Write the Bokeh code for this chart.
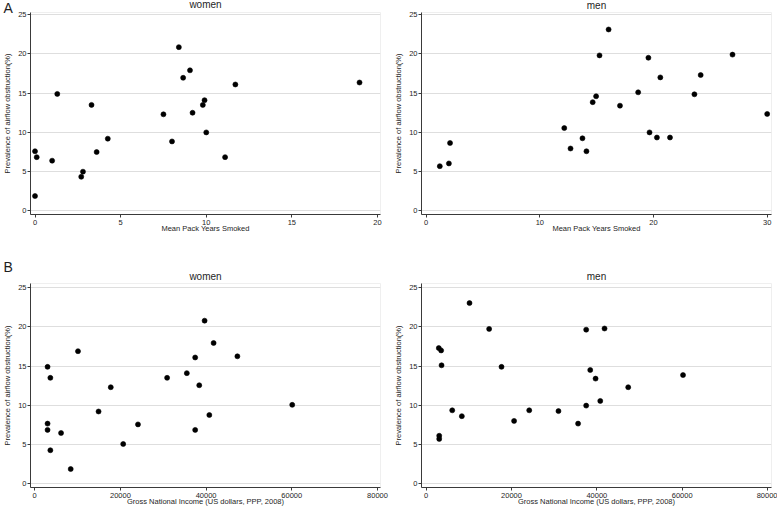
from bokeh.plotting import figure
from bokeh.layouts import column, row
from bokeh.models import Range1d, FixedTicker, Title
from bokeh.embed import file_html
from bokeh.resources import INLINE

# ---- data ----
women_pack_years = [0.0, 0.1, 0.0, 1.0, 1.3, 2.7, 2.8, 3.3, 3.6, 4.25, 7.5, 8.0, 8.4, 8.65,
                    9.05, 9.2, 9.8, 9.9, 10.0, 11.1, 11.7, 18.95]
women_prev_a = [7.6, 6.85, 1.9, 6.4, 14.9, 4.35, 5.0, 13.5, 7.5, 9.2, 12.3, 8.85, 20.85, 16.95,
                17.9, 12.5, 13.5, 14.1, 10.0, 6.85, 16.1, 16.35]
men_pack_years = [1.2, 2.0, 2.1, 12.15, 12.7, 13.75, 14.1, 14.65, 14.95, 15.25, 16.05, 17.05,
                  18.65, 19.55, 19.65, 20.3, 20.6, 21.45, 23.6, 24.15, 26.95, 30.0]
men_prev_a = [5.7, 6.05, 8.65, 10.55, 7.95, 9.25, 7.6, 13.85, 14.6, 19.8, 23.1, 13.4, 15.1,
              19.5, 10.0, 9.35, 17.0, 9.35, 14.85, 17.3, 19.9, 12.35]
women_gni = [3000, 3650, 3000, 3000, 3650, 6150, 8400, 10100, 14900, 17750, 20650, 24100,
             30900, 35500, 37450, 37450, 38400, 39650, 40750, 41750, 47300, 60100]
women_prev_b = [14.9, 13.5, 7.65, 6.85, 4.25, 6.45, 1.85, 16.9, 9.2, 12.3, 5.05, 7.55, 13.5,
                14.1, 16.1, 6.85, 12.55, 20.8, 8.75, 17.95, 16.25, 10.05]
men_gni = [2950, 3500, 3600, 3050, 3050, 6100, 8350, 10150, 14750, 17650, 20600, 24150,
           31000, 35600, 37500, 37500, 38450, 39700, 40800, 41800, 47350, 60200]
men_prev_b = [17.3, 17.0, 15.1, 6.1, 5.7, 9.35, 8.6, 23.05, 19.75, 14.9, 8.0, 9.35, 9.25, 7.65,
              19.65, 9.95, 14.5, 13.4, 10.55, 19.8, 12.3, 13.85]

y_ticks = [0, 5, 10, 15, 20, 25]
pack_ticks_women = [0, 5, 10, 15, 20]
pack_ticks_men = [0, 10, 20, 30]
gni_ticks = [0, 20000, 40000, 60000, 80000]

y_label = "Prevalence of airflow obstruction(%)"
x_label_a = "Mean Pack Years Smoked"
x_label_b = "Gross National Income (US dollars, PPP, 2008)"

FONT = "Liberation Sans"
TEXT = "#1e1e1e"


def panel(x, y, xticks, xr, yr, xlabel, width, height, bl, br, bt, bb):
    p = figure(width=width, height=height, output_backend="svg", toolbar_location=None,
               x_range=Range1d(*xr), y_range=Range1d(*yr),
               min_border_left=bl, min_border_right=br, min_border_top=bt, min_border_bottom=bb)
    try:
        p.title = None
    except Exception:
        p.title.visible = False
    p.scatter(x, y, size=5, color="black", line_width=0.6)
    p.xgrid.grid_line_color = None
    p.ygrid.grid_line_color = "#dedede"
    p.ygrid.grid_line_width = 1
    p.outline_line_color = "#efefef"
    p.xaxis.ticker = FixedTicker(ticks=xticks)
    p.yaxis.ticker = FixedTicker(ticks=y_ticks)
    for ax in (p.xaxis[0], p.yaxis[0]):
        ax.axis_line_color = "#3a3a3a"
        ax.major_tick_line_color = "#3a3a3a"
        ax.major_tick_out = 3
        ax.major_tick_in = 0
        ax.minor_tick_line_color = None
        ax.major_label_text_font = FONT
        ax.major_label_text_font_size = "7.5px"
        ax.major_label_text_color = TEXT
        ax.axis_label_text_font = FONT
        ax.axis_label_text_font_size = "7.5px"
        ax.axis_label_text_font_style = "normal"
        ax.axis_label_text_color = TEXT
    p.xaxis.axis_label = xlabel
    p.xaxis.major_label_standoff = 2
    p.xaxis.axis_label_standoff = -4
    p.yaxis.axis_label = y_label
    p.yaxis.major_label_standoff = 1
    p.yaxis.axis_label_standoff = 3
    p.xaxis.formatter.use_scientific = False
    return p


def add_title(p, text, size, align, valign, standoff, offset=0):
    p.add_layout(Title(text=text, align=align, vertical_align=valign, standoff=standoff,
                       offset=offset, text_font=FONT, text_font_size=size,
                       text_font_style="normal", text_color=TEXT), "above")


yr_top = (-0.45, 25.26)
yr_bot = (-0.51, 25.55)

p1 = panel(women_pack_years, women_prev_a, pack_ticks_women, (-0.263, 20.175), yr_top,
           x_label_a, 389, 258, 30, 9, 0, 44)
add_title(p1, "A", "14px", "left", "top", -12.5, -27)
add_title(p1, "women", "10px", "center", "bottom", -7)

p2 = panel(men_pack_years, men_prev_a, pack_ticks_men, (-0.41, 30.38), yr_top,
           x_label_a, 388, 258, 32, 6, 0, 44)
add_title(p2, "men", "10px", "center", "top", -1.5)

p3 = panel(women_gni, women_prev_b, gni_ticks, (-982, 80701), yr_bot,
           x_label_b, 389, 250, 30, 9, 25, 0)
add_title(p3, "women", "10px", "center", "top", -1.3)
add_title(p3, "B", "14px", "left", "bottom", -6, -27)

p4 = panel(men_gni, men_prev_b, gni_ticks, (-1102, 80938), yr_bot,
           x_label_b, 388, 250, 32, 6, 25, 0)
add_title(p4, "men", "10px", "center", "top", -1.3)

layout = column(row(p1, p2), row(p3, p4))
open("out.html", "w").write(file_html(layout, INLINE))
